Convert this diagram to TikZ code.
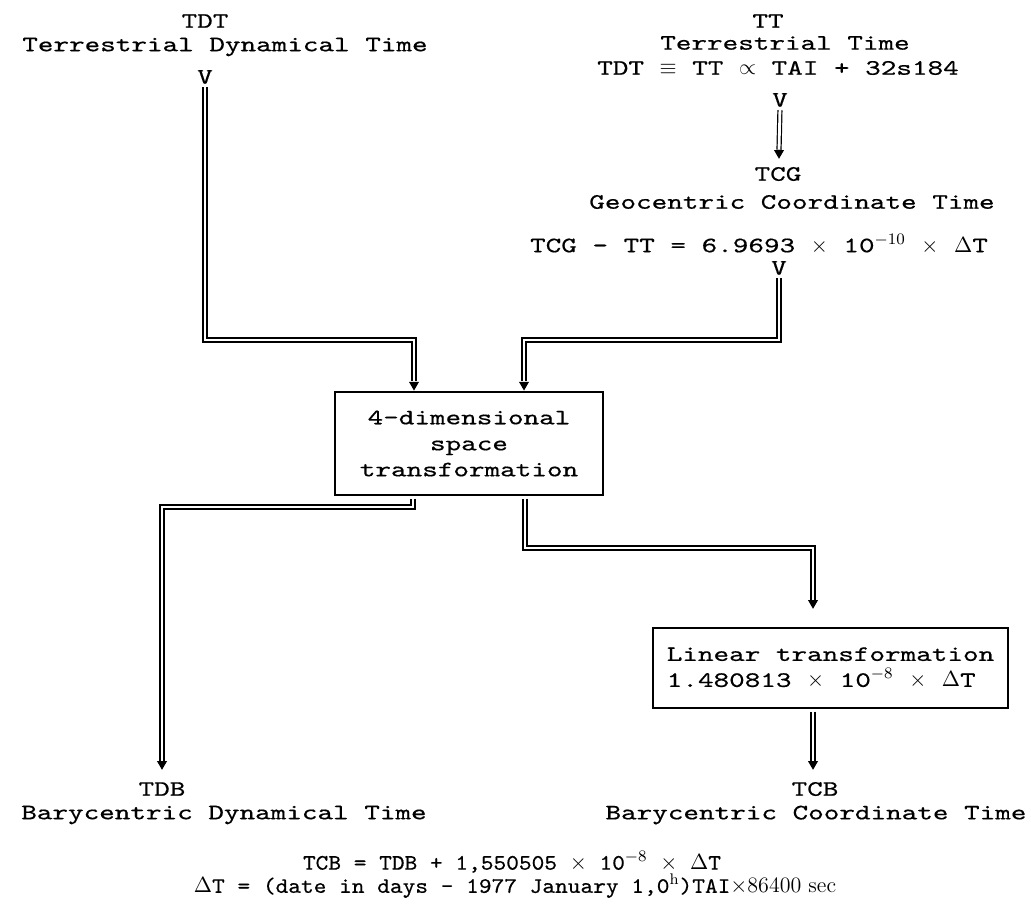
\documentclass[tikz,border=0pt]{standalone}
\usepackage{fontspec}
\setmonofont{lmmono10-regular.otf}[FakeStretch=1.35, FakeBold=0.5]
\newfontfamily\narrowtt{lmmono10-regular.otf}[FakeStretch=1.1, FakeBold=0.5]
\usetikzlibrary{shapes.geometric}

\begin{document}
\begin{tikzpicture}[x=0.5pt,y=-0.5pt,
	txt/.style={font=\ttfamily\fontsize{11}{13}\selectfont, inner sep=0pt, align=center},
	note/.style={txt, font=\narrowtt\fontsize{11}{13}\selectfont},
	box/.style={txt, draw, line width=0.65pt},
	dbl/.style={double, double distance=1.4pt, line width=0.6pt, shorten <=1.5pt},
	head/.style={regular polygon, regular polygon sides=3, shape border rotate=180, fill, inner sep=0pt, minimum size=5.8pt}]
	\useasboundingbox (0,0) rectangle (1031,907);

	% upper left
	\node[txt] (tdt) at (205,21) {TDT};
	\node[txt] (tdtname) at (225,47) {Terrestrial Dynamical Time};
	\node[txt] (tdtv) at (205,77) {V};

	% upper right
	\node[txt] (tt) at (768,21) {TT};
	\node[txt] (ttname) at (785,43) {Terrestrial Time};
	\node[txt] (ttrel) at (778,68) {TDT $\equiv$ TT $\propto$ TAI + 32s184};
	\node[txt] (ttv) at (780,100) {V};
	\node[head] (h1) at (779,153) {};
	\node[txt] (tcg) at (778,174) {TCG};
	\node[txt] (tcgname) at (792,202) {Geocentric Coordinate Time};
	\node[txt] (tcgrel) at (759,244) {TCG - TT = 6.9693 $\times$ 10$^{-10}$ $\times$ $\Delta$T};
	\node[txt] (tcgv) at (779,268) {V};

	% boxes
	\node[box, minimum width=134pt, minimum height=51.5pt] (space) at (469,443.5) {4-dimensional\\space\\transformation};
	\node[box, align=left, minimum width=177.5pt, minimum height=40pt] (linear) at (830.5,668) {Linear transformation\\1.480813 $\times$ 10$^{-8}$ $\times$ $\Delta$T};

	\node[head, anchor=south] (h2) at ([xshift=-27.5pt]space.north) {};
	\node[head, anchor=south] (h3) at ([xshift=27.5pt]space.north) {};
	\node[head] (h4) at (162,764) {};
	\node[head] (h5) at (813,603) {};
	\node[head] (h6) at (813,764) {};

	% lower texts
	\node[txt] (tdb) at (162,789) {TDB};
	\node[txt] (tdbname) at (224,815) {Barycentric Dynamical Time};
	\node[txt] (tcb) at (815,789) {TCB};
	\node[txt] (tcbname) at (816,815) {Barycentric Coordinate Time};
	\node[note] (tcbrel) at (512,862) {TCB = TDB + 1,550505 $\times$ 10$^{-8}$ $\times$ $\Delta$T};
	\node[note] (dtrel) at (515,886) {$\Delta$T = (date in days - 1977 January 1,0$^{\mathrm{h}}$)TAI{\rmfamily$\times$86400 sec}};

	% connectors
	\draw[dbl] (ttv.south) -- (h1.north);
	\draw[dbl] (tdtv.south) -- (tdtv.south |- 0,340) -| (h2.north);
	\draw[dbl] (tcgv.south) -- (tcgv.south |- 0,340) -| (h3.north);
	\draw[dbl] ([xshift=-28pt]space.south) |- (h4.north |- 0,507) -- (h4.north);
	\draw[dbl] ([xshift=28pt]space.south) |- (h5.north |- 0,548) -- (h5.north);
	\draw[dbl] (linear.south -| h6.north) -- (h6.north);
\end{tikzpicture}
\end{document}
